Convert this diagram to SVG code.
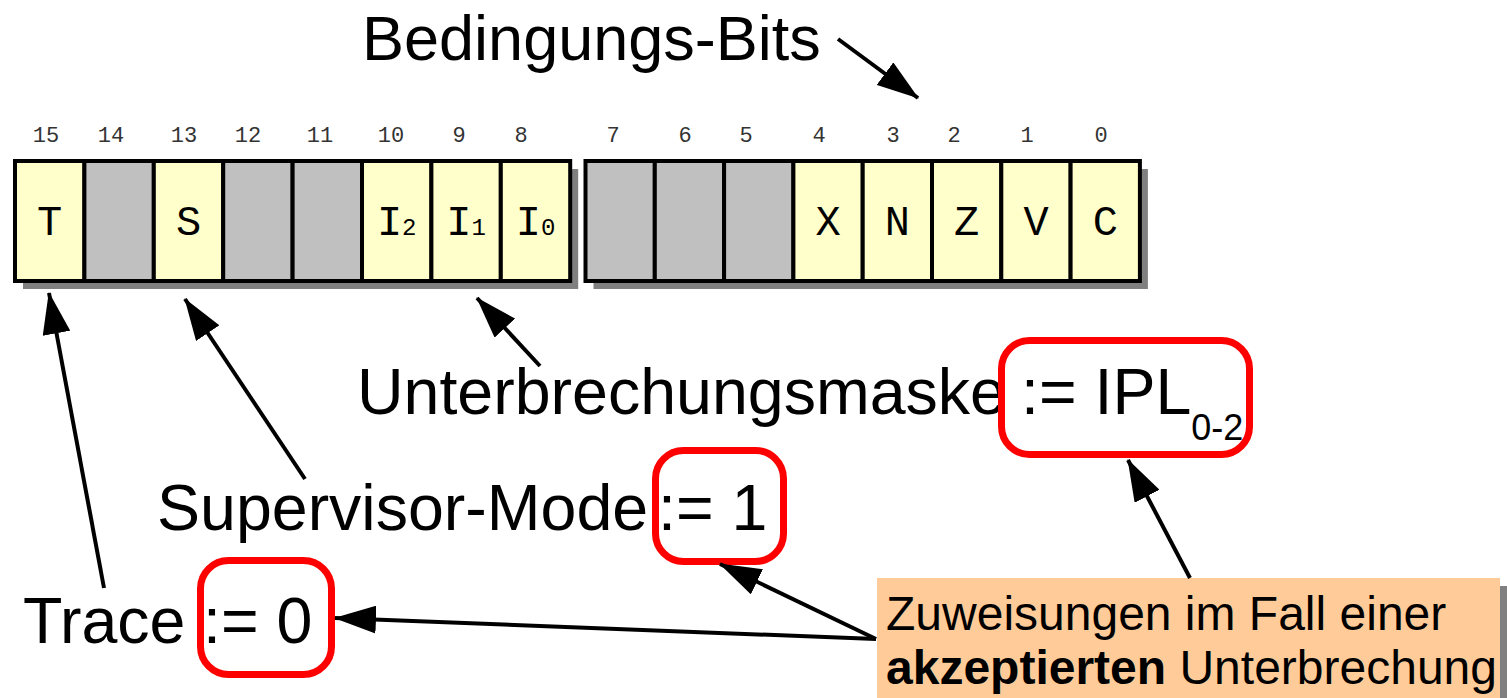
<svg xmlns="http://www.w3.org/2000/svg" width="1507" height="698" viewBox="0 0 1507 698">
  <style>
    .lbl { font-family: "Liberation Sans", Arial, sans-serif; font-size: 64.5px; fill: #000; }
    .ttl { font-size: 63px; }
    .num { font-family: "Liberation Mono", "DejaVu Sans Mono", monospace; font-size: 22px; fill: #333; text-anchor: middle; }
    .bit { font-family: "Liberation Mono", "DejaVu Sans Mono", monospace; font-size: 42px; fill: #000; text-anchor: middle; }
    .sub { font-size: 24px; }
    .cy { fill: #FFFFCC; stroke: #000; stroke-width: 4; }
    .cg { fill: #C0C0C0; stroke: #000; stroke-width: 4; }
    .shadow { fill: #808080; }
    .red { fill: none; stroke: #FF0000; stroke-width: 7; }
    .arr { stroke: #000; stroke-width: 4; fill: none; marker-end: url(#ah); }
    .note { font-family: "Liberation Sans", Arial, sans-serif; font-size: 48px; fill: #000; }
  </style>
  <defs>
    <marker id="ah" markerUnits="userSpaceOnUse" markerWidth="42" markerHeight="28" viewBox="0 0 42 28" refX="41" refY="14" orient="auto">
      <path d="M0,0 L42,14 L0,28 Z" fill="#000"/>
    </marker>
  </defs>
  <rect width="1507" height="698" fill="#FFFFFF"/>

  <g id="title">
    <text class="lbl ttl" x="362" y="60">Bedingungs-Bits</text>
  </g>

  <g id="bitnumbers">
    <text class="num" x="46" y="142">15</text>
    <text class="num" x="111" y="142">14</text>
    <text class="num" x="184" y="142">13</text>
    <text class="num" x="248" y="142">12</text>
    <text class="num" x="320" y="142">11</text>
    <text class="num" x="391" y="142">10</text>
    <text class="num" x="459" y="142">9</text>
    <text class="num" x="521" y="142">8</text>
    <text class="num" x="613" y="142">7</text>
    <text class="num" x="685" y="142">6</text>
    <text class="num" x="746" y="142">5</text>
    <text class="num" x="819" y="142">4</text>
    <text class="num" x="893" y="142">3</text>
    <text class="num" x="954" y="142">2</text>
    <text class="num" x="1027" y="142">1</text>
    <text class="num" x="1101" y="142">0</text>
  </g>

  <g id="highbyte">
    <rect class="shadow" x="23" y="169" width="555.2" height="120"/>
    <rect class="cy" x="15" y="161" width="69.4" height="120"/>
    <rect class="cg" x="84.4" y="161" width="69.4" height="120"/>
    <rect class="cy" x="153.8" y="161" width="69.4" height="120"/>
    <rect class="cg" x="223.2" y="161" width="69.4" height="120"/>
    <rect class="cg" x="292.6" y="161" width="69.4" height="120"/>
    <rect class="cy" x="362" y="161" width="69.4" height="120"/>
    <rect class="cy" x="431.4" y="161" width="69.4" height="120"/>
    <rect class="cy" x="500.8" y="161" width="69.4" height="120"/>
    <text class="bit" x="49.7" y="235">T</text>
    <text class="bit" x="188.5" y="235">S</text>
    <text class="bit" x="396.7" y="235">I<tspan class="sub">2</tspan></text>
    <text class="bit" x="466.1" y="235">I<tspan class="sub">1</tspan></text>
    <text class="bit" x="535.5" y="235">I<tspan class="sub">0</tspan></text>
  </g>

  <g id="lowbyte">
    <rect class="shadow" x="593.5" y="169" width="554.4" height="120"/>
    <rect class="cg" x="585.5" y="161" width="69.3" height="120"/>
    <rect class="cg" x="654.8" y="161" width="69.3" height="120"/>
    <rect class="cg" x="724.1" y="161" width="69.3" height="120"/>
    <rect class="cy" x="793.4" y="161" width="69.3" height="120"/>
    <rect class="cy" x="862.7" y="161" width="69.3" height="120"/>
    <rect class="cy" x="932" y="161" width="69.3" height="120"/>
    <rect class="cy" x="1001.3" y="161" width="69.3" height="120"/>
    <rect class="cy" x="1070.6" y="161" width="69.3" height="120"/>
    <text class="bit" x="828.1" y="235">X</text>
    <text class="bit" x="897.4" y="235">N</text>
    <text class="bit" x="966.7" y="235">Z</text>
    <text class="bit" x="1036" y="235">V</text>
    <text class="bit" x="1105.3" y="235">C</text>
  </g>

  <g id="mask">
    <text class="lbl" x="357" y="414">Unterbrechungsmaske</text>
    <rect class="red" x="1001.5" y="340.5" width="248" height="114" rx="28"/>
    <text class="lbl" x="1021" y="414">:= IPL<tspan font-size="36" dy="26">0-2</tspan></text>
  </g>

  <g id="supervisor">
    <text class="lbl" x="157" y="530">Supervisor-Mode</text>
    <rect class="red" x="655.5" y="450.5" width="128" height="111" rx="28"/>
    <text class="lbl" x="658" y="530">:= 1</text>
  </g>

  <g id="trace">
    <text class="lbl" x="23" y="643">Trace</text>
    <rect class="red" x="200.5" y="560.5" width="131" height="114" rx="28"/>
    <text class="lbl" x="203" y="643">:= 0</text>
  </g>

  <g id="note">
    <rect class="shadow" x="885" y="586" width="623" height="130"/>
    <rect x="877" y="578" width="623" height="130" fill="#FFCC99"/>
    <text class="note" x="886" y="630">Zuweisungen im Fall einer</text>
    <text class="note" x="886" y="684"><tspan font-weight="bold">akzeptierten</tspan> Unterbrechung</text>
  </g>

  <g id="connectors">
    <line class="arr" x1="838" y1="39" x2="918" y2="98"/>
    <line class="arr" x1="104" y1="588" x2="49" y2="293"/>
    <line class="arr" x1="305" y1="479" x2="185" y2="299"/>
    <line class="arr" x1="540" y1="366" x2="477" y2="298"/>
    <line class="arr" x1="1190" y1="578" x2="1128" y2="460"/>
    <line class="arr" x1="876" y1="639" x2="720" y2="564"/>
    <line class="arr" x1="876" y1="639" x2="335" y2="618"/>
  </g>
</svg>
